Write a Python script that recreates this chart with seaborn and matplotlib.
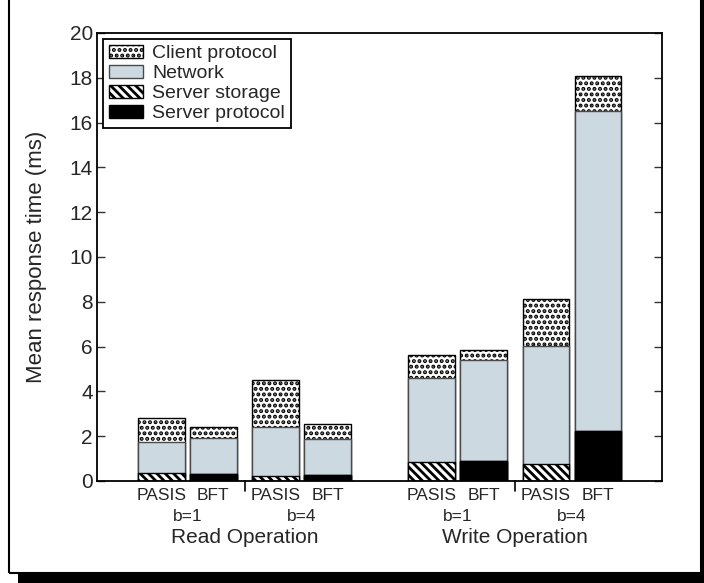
import numpy as np
import pandas as pd
import matplotlib
matplotlib.use("Agg")
import matplotlib.pyplot as plt
from matplotlib.patches import Patch, Rectangle
import seaborn as sns

# ---- data ----
operations = ["Read Operation", "Write Operation"]
b_values = ["b=1", "b=4"]
systems = ["PASIS", "BFT"]
# bar order: op -> b -> system
server_protocol = [0.00, 0.30, 0.00, 0.27, 0.00, 0.89, 0.00, 2.23]
server_storage = [0.34, 0.00, 0.22, 0.00, 0.86, 0.00, 0.76, 0.00]
network = [1.41, 1.63, 2.18, 1.61, 3.75, 4.51, 5.28, 14.29]
client_protocol = [1.08, 0.49, 2.11, 0.67, 1.01, 0.45, 2.07, 1.57]
y_ticks = list(range(0, 21, 2))

sns.set_theme(style="white")
plt.rcParams["font.family"] = ["Liberation Sans", "DejaVu Sans"]
plt.rcParams["hatch.linewidth"] = 2.0

# layout
pair_gap, b_gap, op_gap = 1.0, 2.2, 5.2
rows = []
for i, op in enumerate(operations):
    for j, b in enumerate(b_values):
        for k, s in enumerate(systems):
            rows.append(dict(op=op, b=b, sys=s, pos=i * op_gap + j * b_gap + k * pair_gap))
df = pd.DataFrame(rows)
df["proto"] = server_protocol
df["storage"] = server_storage
df["network"] = network
df["client"] = client_protocol
df["c1"] = df["proto"]
df["c2"] = df["c1"] + df["storage"]
df["c3"] = df["c2"] + df["network"]
df["c4"] = df["c3"] + df["client"]

fig = plt.figure(figsize=(7.04, 5.83), dpi=100)
ax = fig.add_axes([97 / 704, 1 - 481 / 583, (662 - 97) / 704, (481 - 33) / 583])

net_color = "#cdd9e1"
layers = [
    ("c4", "white", "...", "black", "Client protocol"),
    ("c3", net_color, None, "#4a4a4a", "Network"),
    ("c2", "white", "\\\\\\\\", "black", "Server storage"),
    ("c1", "black", None, "black", "Server protocol"),
]
for col, fc, hatch, ec, lab in layers:
    kw = dict(hatch=hatch) if hatch else {}
    sns.barplot(data=df, x="pos", y=col, native_scale=True, width=0.9,
                color=fc, saturation=1, edgecolor=ec, linewidth=1.0,
                errorbar=None, legend=False, ax=ax, **kw)

ax.set_xlim(-1.24, 9.63)
ax.set_ylim(0, 20)
ax.set_yticks(y_ticks)
ax.set_yticklabels([str(t) for t in y_ticks], fontsize=15)
ax.set_xticks([])
ax.set_xlabel("")
ax.set_ylabel("Mean response time (ms)", fontsize=16, labelpad=16)
ax.tick_params(axis="y", direction="in", left=True, right=True, length=6,
               width=1, color="#333333", pad=3)
for sp in ax.spines.values():
    sp.set_visible(True)
    sp.set_color("black")
    sp.set_linewidth(1.3)

# group labels under the axis
xt = ax.get_xaxis_transform()
for _, r in df.iterrows():
    ax.text(r["pos"], -0.033, r["sys"], transform=xt, ha="center", va="center",
            fontsize=12.5)
for (op, b), g in df.groupby(["op", "b"], sort=False):
    ax.text(g["pos"].mean(), -0.079, b, transform=xt, ha="center", va="center",
            fontsize=12.5)
for op, g in df.groupby("op", sort=False):
    ax.text(g["pos"].mean(), -0.126, op, transform=xt, ha="center", va="center",
            fontsize=15)
    # separator tick between b groups
    bpos = g.groupby("b", sort=False)["pos"]
    sep = (bpos.max().iloc[0] + bpos.min().iloc[1]) / 2
    ax.plot([sep, sep], [0, -0.022], transform=xt, color="black", lw=1.2,
            clip_on=False)

handles = [Patch(facecolor=fc, edgecolor=ec, hatch=h, linewidth=1.0, label=lab)
           for _, fc, h, ec, lab in layers]
leg = ax.legend(handles=handles, loc="upper left", fontsize=14,
                frameon=True, fancybox=False, edgecolor="black", framealpha=1,
                handlelength=1.75, handleheight=0.7, handletextpad=0.5,
                labelspacing=0.12, borderpad=0.3, borderaxespad=0.3)
leg.get_frame().set_linewidth(1.3)

# figure frame with drop shadow
fig.patches.append(Rectangle((8.5 / 704, 10 / 583), (701 - 8.5) / 704, 1.2,
                             transform=fig.transFigure, fill=False,
                             edgecolor="black", linewidth=1.5, zorder=0))
fig.patches.append(Rectangle((18 / 704, 0), (704 - 18) / 704, 9 / 583,
                             transform=fig.transFigure, facecolor="black",
                             edgecolor="none", zorder=0))
fig.patches.append(Rectangle((700 / 704, 0), 4 / 704, 1,
                             transform=fig.transFigure, facecolor="black",
                             edgecolor="none", zorder=0))

fig.savefig("out.png", dpi=100)
